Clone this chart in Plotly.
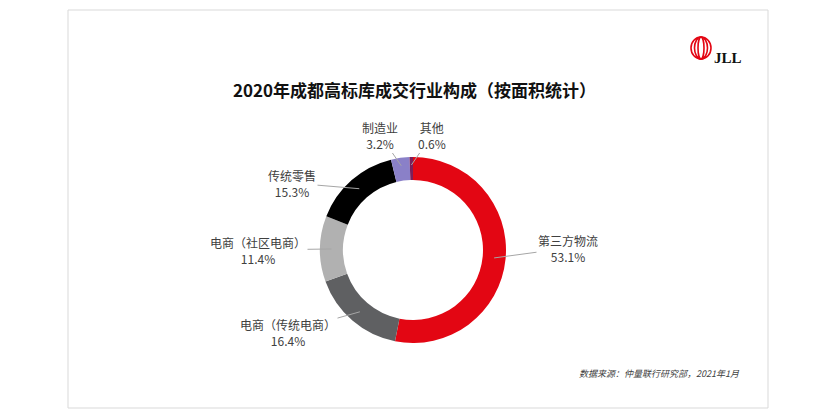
import math
import plotly.graph_objects as go

categories = ["第三方物流", "电商（传统电商）", "电商（社区电商）", "传统零售", "制造业", "其他"]
values = [53.1, 16.4, 11.4, 15.3, 3.2, 0.6]
colors = ["#e30613", "#5f6062", "#b1b1b1", "#000000", "#8a80c8", "#7a1f5c"]

OFF = 8  # browser body margin
W, H = 833 - 2 * OFF, 417 - 2 * OFF


def px_(x):
    return (x - OFF) / W


def py_(y):
    return 1 - (y - OFF) / H


cx, cy, R, r_in = 413, 250, 93, 70

fig = go.Figure(go.Pie(
    labels=categories, values=values, sort=False, direction="clockwise", rotation=0,
    hole=r_in / R, marker=dict(colors=colors, line=dict(width=0)),
    textinfo="none", hoverinfo="label+percent", showlegend=False,
    domain=dict(x=[px_(cx - R), px_(cx + R)], y=[py_(cy + R), py_(cy - R)]),
))

label_pos = [(568, 248), (288, 332), (258, 250), (292, 183), (380, 135), (432, 135)]
total = sum(values)
cum = 0
ann = []
for cat, v, (tx, ty) in zip(categories, values, label_pos):
    mid = (cum + v / 2) / total * 2 * math.pi
    cum += v
    rr = (R + r_in) / 2 if v > 5 else R - 8
    sx = cx + rr * math.sin(mid)
    sy = cy - rr * math.cos(mid)
    ann.append(dict(x=px_(sx), y=py_(sy), xref="paper", yref="paper",
                    ax=tx - sx, ay=ty - sy,
                    text=f"{cat}<br>{v}%", showarrow=True, arrowhead=0,
                    arrowwidth=1, arrowcolor="#a6a6a6", standoff=0, startstandoff=0,
                    font=dict(size=12, color="#404040", family="Noto Sans CJK SC")))

ann.append(dict(x=px_(414), y=py_(75), xref="paper", yref="paper", showarrow=False,
                text="<b>2020年成都高标库成交行业构成（按面积统计）</b>",
                font=dict(size=17, color="#111111", family="Noto Sans CJK SC")))
ann.append(dict(x=px_(742), y=py_(382), xref="paper", yref="paper", showarrow=False,
                xanchor="right", text="<i>数据来源：仲量联行研究部，2021年1月</i>",
                font=dict(size=9, color="#404040", family="Noto Sans CJK SC")))
ann.append(dict(x=px_(712), y=py_(48), xref="paper", yref="paper", showarrow=False,
                xanchor="left", text="<b>JLL</b>",
                font=dict(size=15, color="#111111", family="Liberation Serif")))

shapes = [dict(type="rect", xref="paper", yref="paper", x0=px_(68), x1=px_(768),
               y0=py_(408), y1=py_(10), line=dict(color="#d9d9d9", width=1))]
for dx in [3, 6.5, 10]:
    shapes.append(dict(type="circle", xref="paper", yref="paper",
                       x0=px_(701 - dx), x1=px_(701 + dx), y0=py_(59), y1=py_(37),
                       line=dict(color="#e30613", width=1.6)))

fig.update_layout(width=W, height=H, margin=dict(l=0, r=0, t=0, b=0),
                  paper_bgcolor="white", annotations=ann, shapes=shapes)
fig.write_html("out.html")
